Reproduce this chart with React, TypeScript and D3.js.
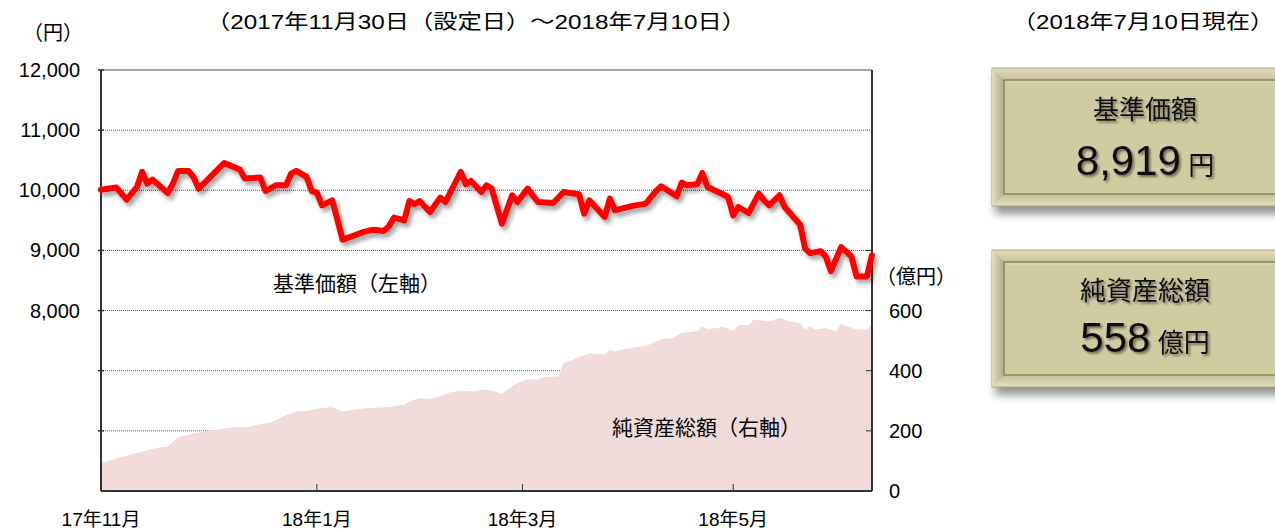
import React from "react";
import * as d3 from "d3";

// 基準価額 (left axis), vertices by business-day index from 2017/11/30
const navDay = [0, 3, 4, 5, 7, 8, 9, 10, 13, 14, 15, 17, 18, 19, 24, 27, 28, 31, 32, 34, 36, 37, 38, 40, 41, 42, 43, 45, 47, 51, 53, 55, 56, 57, 59, 60, 61, 62, 64, 66, 67, 70, 71, 72, 74, 75, 76, 78, 80, 81, 83, 85, 88, 90, 93, 94, 95, 98, 99, 100, 103, 106, 108, 109, 112, 113, 114, 116, 117, 118, 121, 122, 123, 124, 126, 128, 129, 130, 132, 133, 136, 137, 138, 140, 141, 142, 144, 146, 147, 149, 150];
const navValue = [10010, 10045, 9945, 9845, 10055, 10305, 10112, 10178, 9955, 10112, 10322, 10322, 10222, 10028, 10455, 10345, 10195, 10212, 9988, 10083, 10083, 10278, 10322, 10222, 9988, 9962, 9750, 9833, 9178, 9305, 9345, 9322, 9400, 9545, 9500, 9822, 9767, 9822, 9638, 9878, 9805, 10305, 10100, 10155, 9972, 10083, 10028, 9445, 9917, 9805, 10028, 9805, 9788, 9972, 9933, 9612, 9833, 9555, 9862, 9667, 9733, 9778, 9988, 10067, 9900, 10128, 10083, 10100, 10288, 10055, 9933, 9888, 9583, 9722, 9622, 9945, 9833, 9750, 9917, 9722, 9433, 9028, 8955, 8988, 8900, 8655, 9055, 8900, 8567, 8567, 8919];

// 純資産総額 (right axis, 億円)
const aumDay = [0, 3, 7, 11, 13, 15, 18, 21, 26, 29, 31, 33, 36, 38, 40, 43, 45, 47, 49, 52, 56, 59, 60, 62, 64, 66, 68, 70, 72, 74, 76, 78, 80, 81, 83, 85, 86, 89, 90, 92, 93, 95, 98, 99, 100, 102, 104, 106, 108, 110, 111, 113, 116, 117, 118, 120, 121, 123, 124, 126, 127, 130, 132, 134, 136, 137, 138, 139, 141, 143, 144, 145, 147, 149, 150];
const aumValue = [92, 109, 126, 144, 148, 179, 190, 200, 212, 214, 223, 228, 253, 264, 267, 276, 279, 264, 270, 276, 279, 287, 298, 309, 306, 314, 328, 334, 331, 337, 334, 323, 348, 359, 372, 370, 379, 381, 426, 437, 446, 457, 453, 470, 464, 472, 479, 481, 498, 509, 506, 526, 531, 546, 539, 542, 546, 534, 550, 553, 570, 564, 576, 564, 559, 537, 548, 537, 542, 531, 557, 548, 537, 537, 558];

const lastDay = 150;
const monthTickDay = [0, 42, 82, 123];
const monthLabels = ["17年11月", "18年1月", "18年3月", "18年5月"];
const leftLabels = [8000, 9000, 10000, 11000, 12000];
const gridValues = [6000, 7000, 8000, 9000, 10000, 11000];
const rightLabels = [0, 200, 400, 600];

const FONT = "'Liberation Sans', Arial, 'Noto Sans CJK JP', sans-serif";

const W = 1275;
const H = 531;
const left = 101;
const right = 872;
const top = 70;
const bottom = 491;

function InfoBox({ y, h, title, value, unit, titleY, valueY }: any) {
  const x = 992;
  const w = 310;
  const b = 12;
  return (
    <g>
      <rect x={x + 3} y={y + 8} width={w} height={h} fill="#3a3a3a" opacity={0.55} filter="url(#boxShadow)" />
      <rect x={x} y={y} width={w} height={h} fill="url(#bandGrad)" stroke="#a8a382" strokeWidth={1} />
      <polygon points={`${x},${y} ${x + b},${y + b} ${x + b},${y + h - b} ${x},${y + h}`} fill="url(#leftGrad)" />
      <rect x={x + b} y={y + b} width={w - 2 * b} height={h - 2 * b} fill="#d1cba1" stroke="#8a8563" strokeWidth={1.5} />
      <line x1={x + b + 2} x2={x + w - b} y1={y + b + 2} y2={y + b + 2} stroke="#e2ddbb" strokeWidth={1} />
      <text x={1145} y={titleY} textAnchor="middle" fontSize={26} fill="#111" filter="url(#textShadow)">
        {title}
      </text>
      <text x={1145} y={valueY} textAnchor="middle" fill="#111" filter="url(#textShadow)">
        <tspan fontSize={42}>{value}</tspan>
        <tspan fontSize={26}>{" " + unit}</tspan>
      </text>
    </g>
  );
}

export default function App() {
  const x = d3.scaleLinear().domain([0, lastDay]).range([left, right]);
  const yL = d3.scaleLinear().domain([5000, 12000]).range([bottom, top]);
  const yR = d3.scaleLinear().domain([0, 1400]).range([bottom, top]);

  const navPoints = navDay.map((d, i) => [d, navValue[i]] as [number, number]);
  const aumPoints = aumDay.map((d, i) => [d, aumValue[i]] as [number, number]);

  const line = d3
    .line<[number, number]>()
    .x((d) => x(d[0]))
    .y((d) => yL(d[1]));
  const area = d3
    .area<[number, number]>()
    .x((d) => x(d[0]))
    .y0(bottom)
    .y1((d) => yR(d[1]));

  return (
    <>
      <style>{`body{margin:0}`}</style>
      <svg width={W} height={H} style={{ display: "block", fontFamily: FONT }}>
        <defs>
          <filter id="lineShadow" x="-5%" y="-20%" width="110%" height="140%">
            <feDropShadow dx={3} dy={4} stdDeviation={2} floodColor="#000" floodOpacity={0.35} />
          </filter>
          <filter id="textShadow" x="-10%" y="-20%" width="120%" height="150%">
            <feDropShadow dx={2} dy={2} stdDeviation={1.2} floodColor="#000" floodOpacity={0.45} />
          </filter>
          <filter id="boxShadow" x="-10%" y="-20%" width="120%" height="150%">
            <feGaussianBlur stdDeviation={4} />
          </filter>
          <linearGradient id="bandGrad" x1="0" y1="0" x2="0" y2="1">
            <stop offset="0" stopColor="#e0dcbb" />
            <stop offset="0.09" stopColor="#c8c29c" />
            <stop offset="0.91" stopColor="#c3bd97" />
            <stop offset="1" stopColor="#e4e0c2" />
          </linearGradient>
          <linearGradient id="leftGrad" x1="0" y1="0" x2="1" y2="0">
            <stop offset="0" stopColor="#e2deBE" />
            <stop offset="1" stopColor="#b0ab88" />
          </linearGradient>
        </defs>

        <rect width={W} height={H} fill="#fff" />

        {/* grid */}
        {gridValues.map((v) => (
          <line key={v} x1={left} x2={right} y1={yL(v)} y2={yL(v)} stroke="#555" strokeDasharray="1 1" strokeWidth={1} />
        ))}

        {/* net assets area */}
        <path d={area(aumPoints) || ""} fill="#f2dcdb" />

        {/* frame */}
        <line x1={left} x2={right} y1={top} y2={top} stroke="#888" strokeWidth={1.5} />
        <line x1={left} x2={left} y1={top} y2={bottom} stroke="#333" strokeWidth={2} />
        <line x1={right} x2={right} y1={top} y2={bottom} stroke="#333" strokeWidth={2} />
        <line x1={left} x2={right} y1={bottom} y2={bottom} stroke="#333" strokeWidth={2} />

        {/* ticks */}
        {leftLabels.concat([6000, 7000]).map((v) => (
          <line key={"lt" + v} x1={left - 3} x2={left + 3} y1={yL(v)} y2={yL(v)} stroke="#333" strokeWidth={1.5} />
        ))}
        {rightLabels.concat([800]).map((v) => (
          <line key={"rt" + v} x1={right - 6} x2={right} y1={yR(v)} y2={yR(v)} stroke="#333" strokeWidth={1} />
        ))}
        {monthTickDay.slice(1).map((d) => (
          <line key={"xt" + d} x1={x(d)} x2={x(d)} y1={bottom - 7} y2={bottom} stroke="#333" strokeWidth={1} />
        ))}

        {/* NAV line */}
        <path
          d={line(navPoints) || ""}
          fill="none"
          stroke="#ff0000"
          strokeWidth={6}
          strokeLinejoin="round"
          strokeLinecap="round"
          filter="url(#lineShadow)"
        />

        {/* axis labels */}
        {leftLabels.map((v) => (
          <text key={"ll" + v} x={80} y={yL(v) + 7} textAnchor="end" fontSize={20} fill="#000">
            {d3.format(",")(v)}
          </text>
        ))}
        {rightLabels.map((v) => (
          <text key={"rl" + v} x={889} y={yR(v) + 7} fontSize={20} fill="#000">
            {v}
          </text>
        ))}
        {monthTickDay.map((d, i) => (
          <text key={"ml" + d} x={x(d)} y={526} textAnchor="middle" fontSize={19} fill="#000">
            {monthLabels[i]}
          </text>
        ))}

        <text x={53} y={40} textAnchor="middle" fontSize={20} fill="#000">（円）</text>
        <text x={876} y={284} fontSize={20} fill="#000">（億円）</text>

        <text x={206} y={29} fontSize={20} textLength={540} lengthAdjust="spacingAndGlyphs" fill="#000">
          （2017年11月30日（設定日）～2018年7月10日）
        </text>
        <text x={1012} y={29} fontSize={20} textLength={262} lengthAdjust="spacingAndGlyphs" fill="#000">
          （2018年7月10日現在）
        </text>

        <text x={273} y={291} fontSize={21} fill="#000">基準価額（左軸）</text>
        <text x={612} y={435} fontSize={21} fill="#000">純資産総額（右軸）</text>

        <InfoBox y={68} h={138} title="基準価額" value="8,919" unit="円" titleY={119} valueY={175} />
        <InfoBox y={250} h={137} title="純資産総額" value="558" unit="億円" titleY={300} valueY={352} />
      </svg>
    </>
  );
}
